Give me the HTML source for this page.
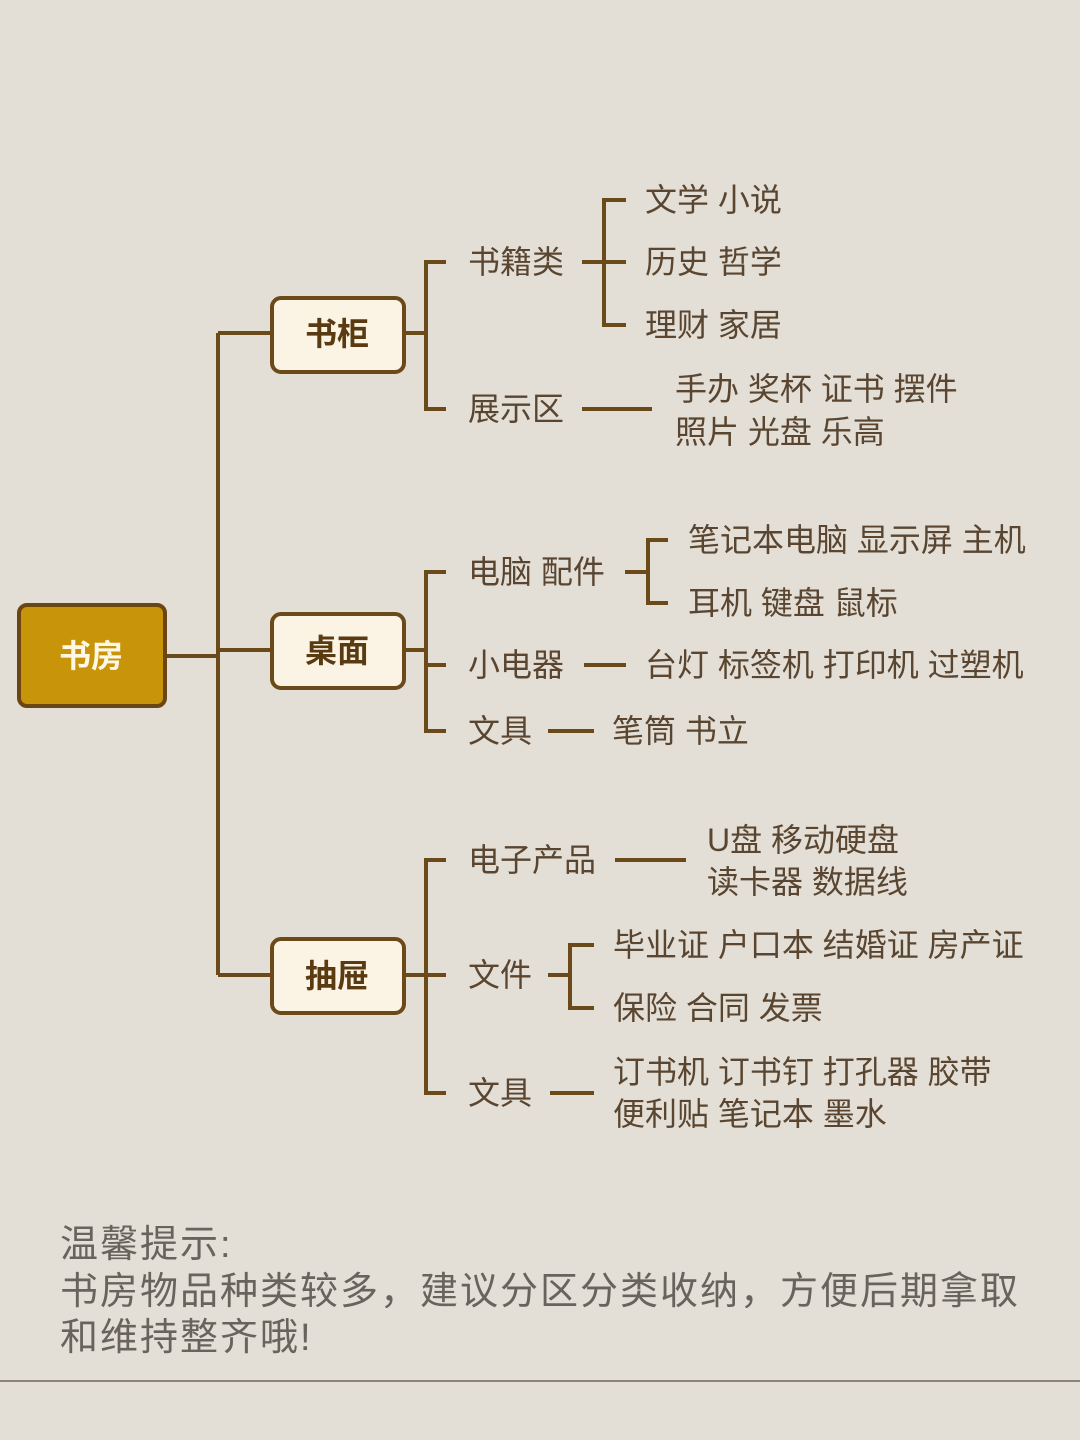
<!DOCTYPE html>
<html><head><meta charset="utf-8"><style>
html,body{margin:0;padding:0;background:#e3dfd7;}
svg{display:block}
.t{font-family:"Liberation Sans","Noto Sans CJK SC",sans-serif;font-size:32px;fill:#5a4630;dominant-baseline:central}
.b{font-family:"Liberation Sans","Noto Sans CJK SC",sans-serif;font-size:32px;font-weight:bold;fill:#5a3a10;dominant-baseline:central;text-anchor:middle}
.f{font-family:"Liberation Sans","Noto Sans CJK SC",sans-serif;font-size:38px;letter-spacing:2px;fill:#68635c;dominant-baseline:central}
</style></head><body>
<svg width="1080" height="1440" viewBox="0 0 1080 1440" xmlns="http://www.w3.org/2000/svg">
<rect width="1080" height="1440" fill="#e3dfd7"/>
<g stroke="#6b4a1a" stroke-width="4" fill="none">
<path d="M165 656H218M218 333V975M218 333H272M218 650H272M218 975H272"/>
<path d="M404 333H426M446 262H426V409H446"/>
<path d="M404 650H426M446 572H426V731H446M426 665H446"/>
<path d="M404 975H426M446 860H426V1093H446M426 975H446"/>
<path d="M582 262H604M626 200H604V325H626M604 262H626"/>
<path d="M582 409H652"/>
<path d="M625 572H648M668 540H648V603H668"/>
<path d="M584 665H626"/>
<path d="M548 731H594"/>
<path d="M615 860H686"/>
<path d="M548 975H570M594 945H570V1008H594"/>
<path d="M550 1093H594"/>
</g>
<rect x="19" y="605" width="146" height="101" rx="8" fill="#c8940a" stroke="#6b4512" stroke-width="4"/>
<text class="b" x="91" y="656" style="fill:#fff8e6">书房</text>
<rect x="272" y="298" width="132" height="74" rx="9" fill="#fbf3e3" stroke="#6b4a1a" stroke-width="4"/>
<text class="b" x="337" y="334">书柜</text>
<rect x="272" y="614" width="132" height="74" rx="9" fill="#fbf3e3" stroke="#6b4a1a" stroke-width="4"/>
<text class="b" x="337" y="651">桌面</text>
<rect x="272" y="939" width="132" height="74" rx="9" fill="#fbf3e3" stroke="#6b4a1a" stroke-width="4"/>
<text class="b" x="337" y="976">抽屉</text>

<text class="t" x="468" y="262">书籍类</text>
<text class="t" x="468" y="409">展示区</text>
<text class="t" x="645" y="200">文学 小说</text>
<text class="t" x="645" y="262">历史 哲学</text>
<text class="t" x="645" y="325">理财 家居</text>
<text class="t" x="675" y="389">手办 奖杯 证书 摆件</text>
<text class="t" x="675" y="432">照片 光盘 乐高</text>

<text class="t" x="468" y="572">电脑 配件</text>
<text class="t" x="468" y="665">小电器</text>
<text class="t" x="468" y="731">文具</text>
<text class="t" x="688" y="540">笔记本电脑 显示屏 主机</text>
<text class="t" x="688" y="603">耳机 键盘 鼠标</text>
<text class="t" x="645" y="665">台灯 标签机 打印机 过塑机</text>
<text class="t" x="612" y="731">笔筒 书立</text>

<text class="t" x="468" y="860">电子产品</text>
<text class="t" x="468" y="975">文件</text>
<text class="t" x="468" y="1093">文具</text>
<text class="t" x="707" y="840">U盘 移动硬盘</text>
<text class="t" x="707" y="882">读卡器 数据线</text>
<text class="t" x="613" y="945">毕业证 户口本 结婚证 房产证</text>
<text class="t" x="613" y="1008">保险 合同 发票</text>
<text class="t" x="613" y="1072">订书机 订书钉 打孔器 胶带</text>
<text class="t" x="613" y="1114">便利贴 笔记本 墨水</text>

<text class="f" x="60" y="1245">温馨提示:</text>
<text class="f" x="60" y="1292">书房物品种类较多，建议分区分类收纳，方便后期拿取</text>
<text class="f" x="60" y="1338">和维持整齐哦!</text>
<rect x="0" y="1380" width="1080" height="2" fill="#8a8478"/>
</svg>
</body></html>
